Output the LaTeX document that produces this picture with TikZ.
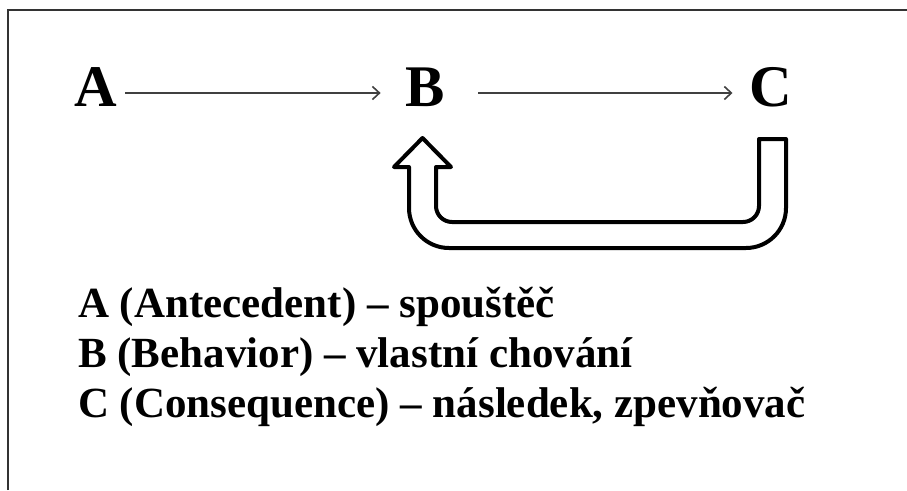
\documentclass[tikz,border=0pt]{standalone}
\usepackage{fontspec}
\setmainfont{Liberation Serif}
\usetikzlibrary{arrows.meta}
\tikzset{
  bigletter/.style={inner sep=0pt, anchor=base, font=\fontsize{59}{60}\selectfont\bfseries},
  legend/.style={inner sep=0pt, anchor=base west, font=\fontsize{43}{50}\selectfont\bfseries},
  thinarrow/.style={draw=black!75, line width=1.6pt, -{Straight Barb[length=7pt,width=13pt,line width=1.6pt]}},
  frameline/.style={draw=black!80, line width=2pt},
  uarrow/.style={draw=black, line width=4pt, line join=round, line cap=round, fill=white}
}
\begin{document}
\begin{tikzpicture}[x=1pt,y=-1pt]
\useasboundingbox (0,0) rectangle (907,490);
\fill[white] (0,0) rectangle (907,490);
% frame
\draw[frameline] (8,490) -- (8,10) -- (907,10);
% letters
\node[bigletter] (A) at (95.5,106) {A};
\node[bigletter] (B) at (425.5,106) {B};
\node[bigletter] (C) at (771,106) {C};
% thin arrows
\draw[thinarrow] ([xshift=8pt,yshift=13pt]A.base east) -- ([xshift=-25pt,yshift=13pt]B.base west);
\draw[thinarrow] ([xshift=33pt,yshift=13pt]B.base east) -- ([xshift=-17pt,yshift=13pt]C.base west);
% U-shaped feedback arrow
\coordinate (tip) at (422.5,138);
\draw[uarrow] (tip) -- (451,167) -- (436,167) -- (436,206)
  arc[start angle=180, end angle=90, radius=16] -- (743,222)
  arc[start angle=90, end angle=0, radius=16] -- (759,139) -- (786,139) -- (786,208)
  arc[start angle=0, end angle=90, radius=40] -- (449,248)
  arc[start angle=90, end angle=180, radius=40] -- (409,167) -- (394,167) -- cycle;
% legend
\node[legend] (la) at (78,317) {A (Antecedent) – spouštěč};
\node[legend] (lb) at (78,367) {B (Behavior) – vlastní chování};
\node[legend] (lc) at (78,417) {C (Consequence) – následek, zpevňovač};
\end{tikzpicture}
\end{document}
